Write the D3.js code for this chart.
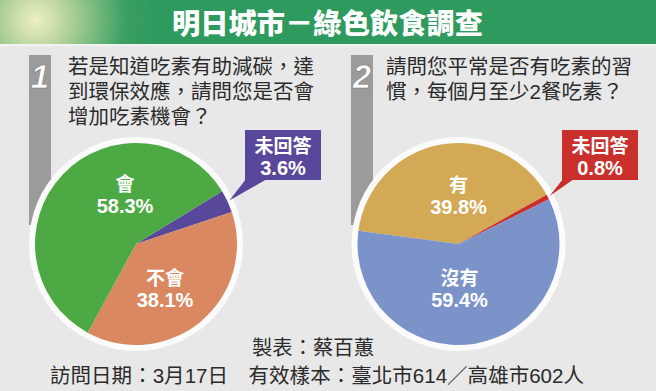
<!DOCTYPE html>
<meta charset="utf-8">
<script src="https://d3js.org/d3.v7.min.js"></script>
<style>
  body { margin: 0; background: #e8e8e8; }
  svg { display: block; }
</style>
<svg id="chart" width="656" height="391"></svg>
<script>
  // data
  var title = "明日城市－綠色飲食調查";
  var q1Lines = ["若是知道吃素有助減碳，達", "到環保效應，請問您是否會", "增加吃素機會？"];
  var q1Labels = ["未回答", "不會", "會"];
  var q1Values = [3.6, 38.1, 58.3];
  var q2Lines = ["請問您平常是否有吃素的習", "慣，每個月至少2餐吃素？"];
  var q2Labels = ["有", "未回答", "沒有"];
  var q2Values = [39.8, 0.8, 59.4];
  var credit = "製表：蔡百蕙";
  var note = "訪問日期：3月17日　有效樣本：臺北市614／高雄市602人";

  var q1Colors = ["#58479a", "#d98862", "#4da944"];
  var q2Colors = ["#d4a955", "#c9302c", "#7b93c9"];

  var svg = d3.select("#chart"),
    width = +svg.attr("width"),
    height = +svg.attr("height");

  var cjk = "'Liberation Sans', 'Noto Sans CJK TC', sans-serif";

  svg.append("rect").attr("width", width).attr("height", height).attr("fill", "#e8e8e8");

  // banner
  var defs = svg.append("defs");
  var glow = defs.append("radialGradient").attr("id", "glow")
    .attr("gradientUnits", "userSpaceOnUse")
    .attr("cx", 36).attr("cy", 20).attr("r", 120);
  glow.append("stop").attr("offset", 0).attr("stop-color", "#eef0c4");
  glow.append("stop").attr("offset", 0.25).attr("stop-color", "#b8d49c");
  glow.append("stop").attr("offset", 0.75).attr("stop-color", "#3a9f62");
  glow.append("stop").attr("offset", 1).attr("stop-color", "#2f9a5e");

  svg.append("rect").attr("x", 0).attr("y", 0).attr("width", width).attr("height", 44)
    .attr("fill", "url(#glow)");
  svg.append("rect").attr("x", 0).attr("y", 44).attr("width", width).attr("height", 2)
    .attr("fill", "#f2f2f2");

  svg.append("text")
    .attr("x", 172).attr("y", 34)
    .attr("textLength", 311).attr("lengthAdjust", "spacingAndGlyphs")
    .style("font-family", "'Noto Sans CJK TC', sans-serif")
    .style("font-weight", 900)
    .style("font-size", "28px")
    .attr("fill", "#fff")
    .text(title);

  // question blocks
  function question(x, barX, num, lines) {
    svg.append("rect").attr("x", barX).attr("y", 55).attr("width", 22).attr("height", 170)
      .attr("fill", "#9b9b9b");
    svg.append("text")
      .attr("x", barX + 11).attr("y", 88)
      .attr("text-anchor", "middle")
      .style("font-family", "'Liberation Sans', sans-serif")
      .style("font-style", "italic").style("font-weight", "bold")
      .style("font-size", "33px")
      .attr("fill", "#fff").attr("stroke", "#777").attr("stroke-width", 0.6)
      .text(num);
    svg.selectAll(null)
      .data(lines)
      .enter()
      .append("text")
      .attr("x", x)
      .attr("y", function (d, i) { return 74 + i * 25; })
      .style("font-family", cjk)
      .style("font-size", "20.5px")
      .attr("fill", "#2b2b2b")
      .text(function (d) { return d; });
  }
  question(68, 29, "1", q1Lines);
  question(386, 351, "2", q2Lines);

  // pies
  var rOuter = 107, rInner = 101;
  var arc = d3.arc().innerRadius(0).outerRadius(rInner);

  function drawPie(cx, cy, startDeg, labels, values, colors, layout) {
    var pie = d3.pie().sort(null)
      .startAngle(startDeg * Math.PI / 180)
      .endAngle((startDeg + 360) * Math.PI / 180);
    var arcs = pie(values);
    var g = svg.append("g").attr("transform", "translate(" + cx + "," + cy + ")");
    g.append("circle").attr("r", rOuter).attr("fill", "#fbfbfb");
    g.selectAll("path")
      .data(arcs)
      .enter()
      .append("path")
      .attr("d", arc)
      .attr("fill", function (d, i) { return colors[i]; });

    arcs.forEach(function (d, i) {
      var L = layout[i];
      var lab = g.append("g");
      if (L.box) {
        var mid = (d.startAngle + d.endAngle) / 2;
        var tip = [Math.sin(mid) * (rInner + 2), -Math.cos(mid) * (rInner + 2)];
        var b = L.box;
        g.append("path")
          .attr("d", "M" + (b[0] + 1) + "," + (b[1] + b[3] - 1) +
            "L" + (b[0] + L.foot) + "," + (b[1] + b[3] - 1) +
            "L" + tip[0] + "," + tip[1] + "Z")
          .attr("fill", colors[i]);
        g.append("rect").attr("x", b[0]).attr("y", b[1]).attr("width", b[2]).attr("height", b[3])
          .attr("fill", colors[i]);
      }
      g.append("text")
        .attr("x", L.x).attr("y", L.y)
        .attr("text-anchor", "middle")
        .style("font-family", cjk).style("font-weight", "bold").style("font-size", "19px")
        .attr("fill", "#fff")
        .text(labels[i]);
      g.append("text")
        .attr("x", L.x).attr("y", L.y + 22)
        .attr("text-anchor", "middle")
        .style("font-family", cjk).style("font-weight", "bold").style("font-size", "20px")
        .attr("fill", "#fff")
        .text(values[i] + "%");
    });
  }

  drawPie(136, 244, 58.5, q1Labels, q1Values, q1Colors, [
    { x: 147, y: -91, box: [109, -114, 76, 50], foot: 22 },
    { x: 29, y: 41 },
    { x: -11, y: -53 }
  ]);
  drawPie(458.5, 244, 277.5, q2Labels, q2Values, q2Colors, [
    { x: 0, y: -52 },
    { x: 141.5, y: -91, box: [103.5, -114, 76, 50], foot: 12 },
    { x: 1, y: 41 }
  ]);

  // footer
  svg.append("text")
    .attr("x", 313).attr("y", 355)
    .attr("text-anchor", "middle")
    .attr("textLength", 122).attr("lengthAdjust", "spacingAndGlyphs")
    .style("font-family", cjk).style("font-size", "20px")
    .attr("fill", "#2b2b2b")
    .text(credit);
  svg.append("text")
    .attr("x", 50).attr("y", 383)
    .attr("textLength", 534).attr("lengthAdjust", "spacingAndGlyphs")
    .style("font-family", cjk).style("font-size", "20.5px")
    .attr("fill", "#2b2b2b")
    .text(note);
</script>
